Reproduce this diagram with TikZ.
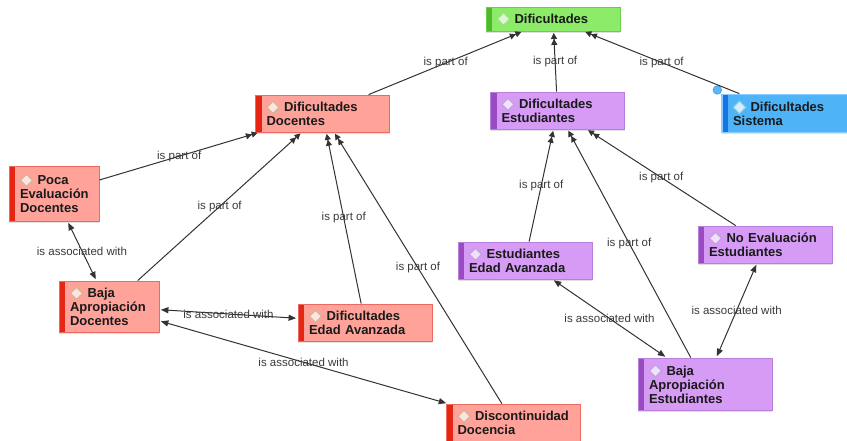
\documentclass[tikz,border=0pt]{standalone}
\usepackage{fontspec}
\setmainfont{Liberation Sans}
\usetikzlibrary{arrows.meta,shadows}
\definecolor{redfill}{HTML}{FFA39A}
\definecolor{redline}{HTML}{EE6A60}
\definecolor{redbar}{HTML}{E42612}
\definecolor{purfill}{HTML}{D69BF5}
\definecolor{purline}{HTML}{B97FDB}
\definecolor{purbar}{HTML}{9A4BC2}
\definecolor{grnfill}{HTML}{8CEB68}
\definecolor{grnline}{HTML}{6ACF48}
\definecolor{grnbar}{HTML}{4FB82B}
\definecolor{blufill}{HTML}{4FB3F8}
\definecolor{bluline}{HTML}{8ACCFF}
\definecolor{blubar}{HTML}{1675E6}
\definecolor{edgec}{HTML}{333333}
\definecolor{lbltxt}{HTML}{3A3A3A}
\definecolor{txtc}{HTML}{1A1A1A}
\definecolor{rico}{HTML}{FDE4E0}
\definecolor{ricoline}{HTML}{CDB894}
\definecolor{pico}{HTML}{F1E0FB}
\definecolor{picoline}{HTML}{BFA4D6}
\definecolor{gico}{HTML}{DDF7D2}
\definecolor{gicoline}{HTML}{A9DE94}
\definecolor{bico}{HTML}{D4EEFB}
\definecolor{bicoline}{HTML}{98D2EE}
\definecolor{handlefill}{HTML}{5BB8FA}
\definecolor{handleline}{HTML}{3A9BE8}
\newcommand{\cico}[2]{\tikz[baseline={(0pt,-4.6pt)}]\draw[draw=#2,fill=#1,line width=1pt] (-6pt,0pt)--(0pt,6pt)--(6pt,0pt)--(0pt,-6pt)--cycle;\hspace{4.5pt}}
\tikzset{
  concept/.style={rectangle, text=txtc, font=\fontsize{13}{14}\selectfont\bfseries,
    align=left, inner sep=0pt, line width=0.8pt,
    drop shadow={shadow xshift=0pt, shadow yshift=-1.5pt, opacity=0.12, fill=black}},
  barfill/.style={path picture={\fill[#1] (path picture bounding box.south west) rectangle ([xshift=6pt]path picture bounding box.north west);}},
  redc/.style={concept, fill=redfill, draw=redline, barfill=redbar},
  purc/.style={concept, fill=purfill, draw=purline, barfill=purbar},
  grnc/.style={concept, fill=grnfill, draw=grnline, barfill=grnbar},
  bluc/.style={concept, fill=blufill, draw=bluline, line width=1.8pt, barfill=blubar},
  wide/.style={minimum width=134pt, text width=112pt},
  lbl/.style={font=\fontsize{11.5}{13}\selectfont, text=lbltxt, inner sep=1pt},
  partof/.style={draw=edgec, line width=1pt, shorten >=1.5pt,
    -{Triangle[length=6pt,width=6pt]Triangle[length=6pt,width=6pt]}},
  assoc/.style={draw=edgec, line width=1pt, shorten >=1.5pt, shorten <=1.5pt,
    {Triangle[length=7.5pt,width=6pt]}-{Triangle[length=7.5pt,width=6pt]}}
}
\begin{document}
\begin{tikzpicture}[x=1pt,y=-1pt]
\clip (0,0) rectangle (847,440);
\fill[white] (0,0) rectangle (847,440);
% nodes
\node[grnc, wide, minimum height=24pt] (dif) at (553,19) {\cico{gico}{gicoline}Dificultades};
\node[redc, wide, minimum height=37pt] (difdoc) at (322.5,113.5) {\cico{rico}{ricoline}Dificultades\\Docentes};
\node[purc, wide, minimum height=37pt] (difest) at (557.5,110.5) {\cico{pico}{picoline}Dificultades\\Estudiantes};
\node[bluc, wide, minimum height=38pt] (difsis) at (789,113.5) {\cico{bico}{bicoline}Dificultades\\Sistema};
\node[circle, fill=handlefill, draw=handleline, line width=0.6pt, minimum size=8.5pt, inner sep=0pt] (handle) at (717.3,90) {};
\node[redc, minimum width=90pt, text width=68pt, minimum height=55pt] (poca) at (54,193.5) {\cico{rico}{ricoline}Poca\\Evaluación\\Docentes};
\node[redc, minimum width=100pt, text width=78pt, minimum height=51pt] (bajadoc) at (109,306.5) {\cico{rico}{ricoline}Baja\\Apropiación\\Docentes};
\node[redc, wide, minimum height=37pt] (edaddoc) at (365,322.5) {\cico{rico}{ricoline}Dificultades\\Edad Avanzada};
\node[redc, wide, minimum height=37pt] (disc) at (513.5,422.5) {\cico{rico}{ricoline}Discontinuidad\\Docencia};
\node[purc, wide, minimum height=37pt] (estedad) at (525,260.5) {\cico{pico}{picoline}Estudiantes\\Edad Avanzada};
\node[purc, wide, minimum height=37pt] (noeval) at (765,244.5) {\cico{pico}{picoline}No Evaluación\\Estudiantes};
\node[purc, wide, minimum height=52pt] (bajaest) at (705,384) {\cico{pico}{picoline}Baja\\Apropiación\\Estudiantes};
% is part of
\draw[partof] (difdoc) -- node[lbl]{is part of} (dif);
\draw[partof] (difest) -- node[lbl]{is part of} (dif);
\draw[partof] (difsis) -- node[lbl]{is part of} (dif);
\draw[partof] (poca) -- node[lbl]{is part of} (difdoc);
\draw[partof] (bajadoc) -- node[lbl]{is part of} (difdoc);
\draw[partof] (edaddoc) -- node[lbl]{is part of} (difdoc);
\draw[partof] (disc) -- node[lbl]{is part of} (difdoc);
\draw[partof] (estedad) -- node[lbl]{is part of} (difest);
\draw[partof] (bajaest) -- node[lbl]{is part of} (difest);
\draw[partof] (noeval) -- node[lbl]{is part of} (difest);
% is associated with
\draw[assoc] (poca) -- node[lbl]{is associated with} (bajadoc);
\draw[assoc] (bajadoc) -- node[lbl]{is associated with} (edaddoc);
\draw[assoc] (bajadoc) -- node[lbl]{is associated with} (disc);
\draw[assoc] (estedad) -- node[lbl]{is associated with} (bajaest);
\draw[assoc] (noeval) -- node[lbl]{is associated with} (bajaest);
\end{tikzpicture}
\end{document}
